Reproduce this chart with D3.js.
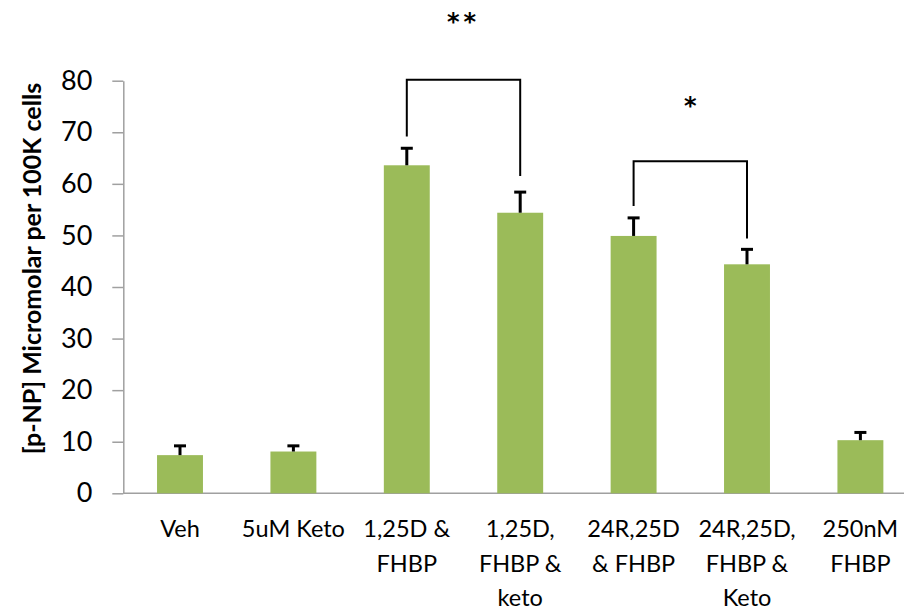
<!DOCTYPE html>
<html>
<head>
<meta charset="utf-8">
<script src="https://cdn.jsdelivr.net/npm/d3@7"></script>
<style>
  html, body { margin: 0; padding: 0; background: #fff; }
  svg { display: block; }
  text { font-family: Lato, "Open Sans", sans-serif; fill: #000; }
</style>
</head>
<body>
<svg id="chart" width="904" height="613"></svg>
<script>
// Treatment groups (each entry is the list of label lines under the bar)
const categories = [
  ["Veh"],
  ["5uM Keto"],
  ["1,25D &", "FHBP"],
  ["1,25D,", "FHBP &", "keto"],
  ["24R,25D", "& FHBP"],
  ["24R,25D,", "FHBP &", "Keto"],
  ["250nM", "FHBP"]
];
// Mean [p-NP] per 100K cells and the upper error bar value
const means  = [7.4, 8.1, 63.6, 54.4, 49.9, 44.4, 10.3];
const errTop = [9.2, 9.2, 66.9, 58.4, 53.4, 47.3, 11.8];
const yTicks = [0, 10, 20, 30, 40, 50, 60, 70, 80];

// Significance brackets: group indices, bracket height, leg ends, star label and its height
const brackets = [
  { from: 2, to: 3, top: 80.2, leftEnd: 69.2, rightEnd: 61.5, label: "**", labelY: 91.3 },
  { from: 4, to: 5, top: 64.4, leftEnd: 55.7, rightEnd: 49.4, label: "*",  labelY: 75.0 }
];

const svg = d3.select("#chart");
const x0 = 123.3, bandStep = 113.4;

const x = d3.scaleBand()
  .domain(d3.range(categories.length))
  .range([x0, x0 + bandStep * categories.length])
  .paddingInner(0.595)
  .paddingOuter(0.2975);

const y = d3.scaleLinear().domain([0, 80]).range([493.3, 80.7]);

const axisColor = "#a0a0a0";

// Y axis
const yAxis = d3.axisLeft(y)
  .tickValues(yTicks)
  .tickSize(11)
  .tickSizeOuter(0)
  .tickPadding(20);

const gy = svg.append("g")
  .attr("transform", `translate(${x0},0)`)
  .call(yAxis);
gy.select(".domain").attr("stroke", axisColor).attr("stroke-width", 1.5);
gy.selectAll(".tick line").attr("stroke", axisColor).attr("stroke-width", 1.5);
gy.selectAll(".tick text")
  .style("font-family", "Lato, 'Open Sans', sans-serif")
  .attr("font-size", 27)
  .attr("fill", "#000");

// X baseline
svg.append("line")
  .attr("x1", x0).attr("x2", 904)
  .attr("y1", y(0)).attr("y2", y(0))
  .attr("stroke", axisColor).attr("stroke-width", 1.5);

// Bars
const bw = x.bandwidth();
svg.append("g").selectAll("rect")
  .data(means)
  .join("rect")
  .attr("x", (d, i) => x(i))
  .attr("y", d => y(d))
  .attr("width", bw)
  .attr("height", d => y(0) - y(d))
  .attr("fill", "#9bbb59");

// Error bars (upper only)
const eb = svg.append("g").attr("stroke", "#000").attr("stroke-width", 3);
means.forEach((m, i) => {
  const cx = x(i) + bw / 2;
  eb.append("line").attr("x1", cx).attr("x2", cx).attr("y1", y(m)).attr("y2", y(errTop[i]));
  eb.append("line").attr("x1", cx - 6).attr("x2", cx + 6).attr("y1", y(errTop[i])).attr("y2", y(errTop[i]));
});

// Significance brackets and stars
brackets.forEach(b => {
  const xl = x(b.from) + bw / 2, xr = x(b.to) + bw / 2;
  svg.append("path")
    .attr("d", `M${xl},${y(b.leftEnd)}V${y(b.top)}H${xr}V${y(b.rightEnd)}`)
    .attr("fill", "none").attr("stroke", "#000").attr("stroke-width", 2);
  svg.append("text")
    .attr("x", (xl + xr) / 2)
    .attr("y", y(b.labelY))
    .attr("text-anchor", "middle")
    .attr("dominant-baseline", "central")
    .style("font-family", "'DejaVu Sans', sans-serif")
    .attr("font-size", 24)
    .attr("font-weight", "bold")
    .attr("letter-spacing", b.label.length > 1 ? 4 : 0)
    .text(b.label);
});

// Category labels
const xl = svg.append("g");
categories.forEach((lines, i) => {
  const t = xl.append("text")
    .attr("x", x(i) + bw / 2)
    .attr("y", 537)
    .attr("text-anchor", "middle")
    .attr("font-size", 23.5);
  lines.forEach((ln, k) => {
    t.append("tspan")
      .attr("x", x(i) + bw / 2)
      .attr("dy", k === 0 ? 0 : 34.5)
      .text(ln);
  });
});

// Y axis title
svg.append("text")
  .attr("transform", `translate(41,${(80 + 457) / 2}) rotate(-90)`)
  .attr("text-anchor", "middle")
  .attr("font-size", 25)
  .attr("font-weight", "bold")
  .text("[p-NP] Micromolar per 100K cells");
</script>
</body>
</html>
